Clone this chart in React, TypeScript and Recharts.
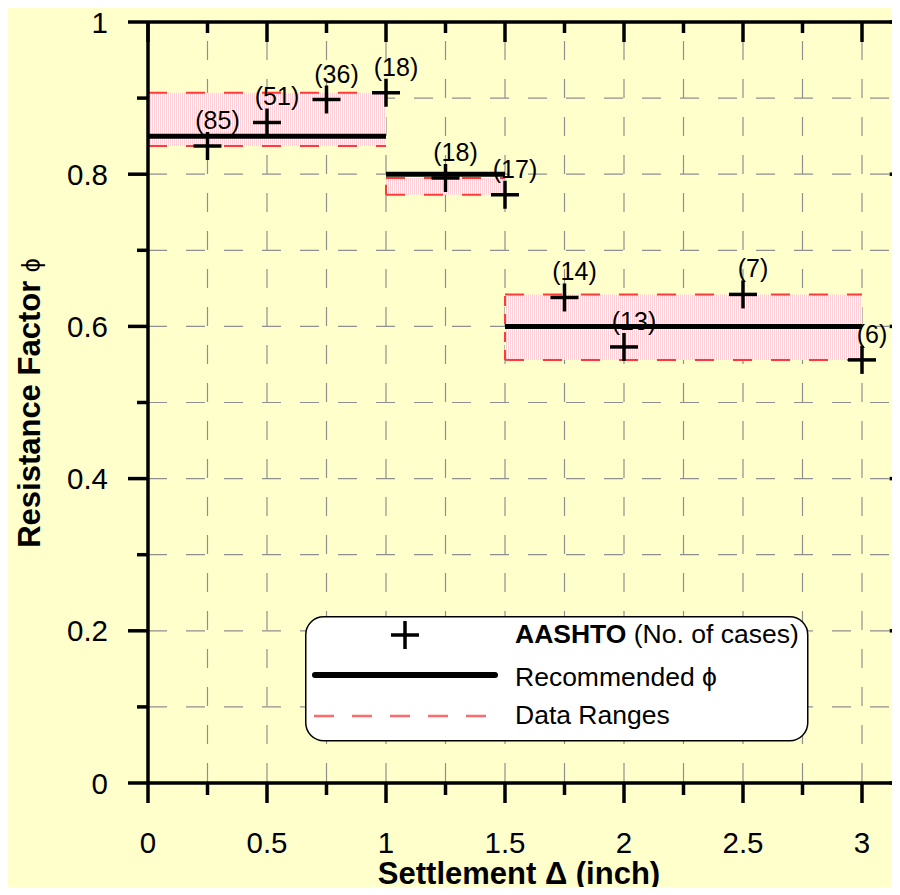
import React from 'react';
import {
  ComposedChart,
  XAxis,
  YAxis,
  CartesianGrid,
  Scatter,
  ReferenceArea,
  ReferenceLine,
  Legend,
} from 'recharts';

// AASHTO cases, settlement (inch) vs resistance factor
const settlement = [0.25, 0.5, 0.75, 1.0, 1.25, 1.5, 1.75, 2.0, 2.5, 3.0];
const phiAashto = [0.837, 0.868, 0.898, 0.907, 0.795, 0.773, 0.638, 0.573, 0.642, 0.556];
const cases = [85, 51, 36, 18, 18, 17, 14, 13, 7, 6];

// recommended phi per settlement band, with the data range of each band
const bandStart = [0, 1, 1.5];
const bandEnd = [1, 1.5, 3];
const recommendedPhi = [0.85, 0.8, 0.6];
const rangeLow = [0.837, 0.773, 0.556];
const rangeHigh = [0.907, 0.795, 0.642];

const xTicks = [0, 0.25, 0.5, 0.75, 1, 1.25, 1.5, 1.75, 2, 2.25, 2.5, 2.75, 3];
const yTicks = [0, 0.1, 0.2, 0.3, 0.4, 0.5, 0.6, 0.7, 0.8, 0.9, 1];
const X_MAX = 3.2;

const aashto = settlement.map((x, i) => ({ x, phi: phiAashto[i], n: cases[i] }));

const FONT = 'Arial, "Liberation Sans", sans-serif';
const AXIS_W = 3.5;
const GRID = '#8f8f8f';

// chart frame
const CHART_W = 930;
const CHART_H = 895;
const MARGIN = { top: 21, right: 19.4, bottom: 0, left: 0 };
const TOP_AXIS_H = 1;
const BOTTOM_AXIS_H = 112;
const LEFT_AXIS_W = 148;
const RIGHT_AXIS_W = 1;
const PLOT_LEFT = MARGIN.left + LEFT_AXIS_W;
const PLOT_TOP = MARGIN.top + TOP_AXIS_H;
const PLOT_W = CHART_W - MARGIN.left - MARGIN.right - LEFT_AXIS_W - RIGHT_AXIS_W;
const PLOT_H = CHART_H - MARGIN.top - MARGIN.bottom - TOP_AXIS_H - BOTTOM_AXIS_H;
const PLOT_RIGHT = PLOT_LEFT + PLOT_W;
const PLOT_BOTTOM = PLOT_TOP + PLOT_H;

// same linear mapping as the x / y axes, for the frame's inward ticks
const frameX = (v: number) => PLOT_LEFT + (v / X_MAX) * PLOT_W;
const frameY = (v: number) => PLOT_BOTTOM - v * PLOT_H;

function isMultiple(v: number, step: number) {
  return Math.abs(v / step - Math.round(v / step)) < 1e-6;
}

function BottomTick({ x, y, payload }: any) {
  const major = isMultiple(payload.value, 0.5);
  return (
    <g>
      <line x1={x} y1={y} x2={x} y2={y + (major ? 20 : 12)} stroke="#000" strokeWidth={AXIS_W} />
      {major && (
        <text x={x} y={y + 70} textAnchor="middle" fontSize={29.5} fontFamily={FONT} fill="#000">
          {payload.value}
        </text>
      )}
    </g>
  );
}

function LeftTick({ x, y, payload }: any) {
  const major = isMultiple(payload.value, 0.2);
  return (
    <g>
      <line x1={x - (major ? 20 : 11)} y1={y} x2={x} y2={y} stroke="#000" strokeWidth={AXIS_W} />
      {major && (
        <text x={x - 40} y={y} dy="0.36em" textAnchor="end" fontSize={29.5} fontFamily={FONT} fill="#000">
          {payload.value}
        </text>
      )}
    </g>
  );
}

function CrossMark({ cx, cy, payload }: any) {
  return (
    <g>
      <line x1={cx - 14} y1={cy} x2={cx + 14} y2={cy} stroke="#000" strokeWidth={3.5} />
      <line x1={cx} y1={cy - 14} x2={cx} y2={cy + 14} stroke="#000" strokeWidth={3.5} />
      <text x={cx + 10} y={cy - 26} dy="0.36em" textAnchor="middle" fontSize={25} fontFamily={FONT} fill="#000">
        ({payload.n})
      </text>
    </g>
  );
}

function LegendBox() {
  return (
    <svg width={506} height={128} style={{ display: 'block', overflow: 'visible' }}>
      <rect x={0.75} y={0.75} width={502} height={124} rx={18} fill="#fff" stroke="#000" strokeWidth={1.5} />
      <line x1={86} y1={19} x2={114} y2={19} stroke="#000" strokeWidth={3.5} />
      <line x1={100} y1={5} x2={100} y2={33} stroke="#000" strokeWidth={3.5} />
      <line x1={10} y1={59} x2={190} y2={59} stroke="#000" strokeWidth={6} strokeLinecap="round" />
      <line x1={9} y1={100} x2={182} y2={100} stroke="#ff6b6b" strokeWidth={2.5} strokeDasharray="20 18" />
      <text x={210} y={27} fontSize={26.5} fontFamily={FONT} fill="#000">
        <tspan fontWeight="bold">AASHTO</tspan> (No. of cases)
      </text>
      <text x={210} y={70} fontSize={26.5} fontFamily={FONT} fill="#000">
        Recommended ϕ
      </text>
      <text x={210} y={108} fontSize={26.5} fontFamily={FONT} fill="#000">
        Data Ranges
      </text>
    </svg>
  );
}

// inward ticks on the top and right edges of the frame, laid over the chart
function FrameTicks() {
  return (
    <svg
      width={900}
      height={895}
      style={{ position: 'absolute', left: 0, top: 0, pointerEvents: 'none' }}
    >
      {xTicks.map((v) => (
        <line
          key={`tt-${v}`}
          x1={frameX(v)}
          y1={PLOT_TOP}
          x2={frameX(v)}
          y2={PLOT_TOP + (isMultiple(v, 0.5) ? 20 : 11)}
          stroke="#000"
          strokeWidth={AXIS_W}
        />
      ))}
      {yTicks.map((v) => (
        <line
          key={`rt-${v}`}
          x1={PLOT_RIGHT - (isMultiple(v, 0.2) ? 20 : 11)}
          y1={frameY(v)}
          x2={PLOT_RIGHT}
          y2={frameY(v)}
          stroke="#000"
          strokeWidth={AXIS_W}
        />
      ))}
    </svg>
  );
}

export default function App() {
  return (
    <div
      style={{
        position: 'relative',
        width: 900,
        height: 895,
        margin: -8,
        overflow: 'hidden',
        background: '#FFFFCC',
        fontFamily: FONT,
      }}
    >
      <ComposedChart width={CHART_W} height={CHART_H} data={aashto} margin={MARGIN}>
        <defs>
          <pattern id="pinkStipple" width={2} height={2} patternUnits="userSpaceOnUse">
            <rect x={0} y={0} width={2} height={2} fill="#ffffff" />
            <rect x={0} y={0} width={1} height={2} fill="#ffcfd8" />
          </pattern>
        </defs>

        {bandStart.map((s, i) => (
          <ReferenceArea
            key={`band-${i}`}
            x1={s}
            x2={bandEnd[i]}
            y1={rangeLow[i]}
            y2={rangeHigh[i]}
            fill="url(#pinkStipple)"
            fillOpacity={1}
            stroke="none"
            ifOverflow="visible"
          />
        ))}

        <CartesianGrid horizontal={false} vertical stroke={GRID} strokeWidth={1.2} strokeDasharray="0 19 19 0" />
        <CartesianGrid horizontal vertical={false} stroke={GRID} strokeWidth={1.2} strokeDasharray="19 19" />

        {bandStart.map((s, i) => (
          <ReferenceLine
            key={`hi-${i}`}
            segment={[{ x: s, y: rangeHigh[i] }, { x: bandEnd[i], y: rangeHigh[i] }]}
            stroke="#ff3a3a"
            strokeWidth={2}
            strokeDasharray="19 19"
            ifOverflow="visible"
          />
        ))}
        {bandStart.map((s, i) => (
          <ReferenceLine
            key={`lo-${i}`}
            segment={[{ x: s, y: rangeLow[i] }, { x: bandEnd[i], y: rangeLow[i] }]}
            stroke="#ff3a3a"
            strokeWidth={2}
            strokeDasharray="19 19"
            ifOverflow="visible"
          />
        ))}
        {bandStart.map((s, i) => (
          <ReferenceLine
            key={`side-${i}`}
            segment={[{ x: s, y: rangeLow[i] }, { x: s, y: rangeHigh[i] }]}
            stroke="#ff3a3a"
            strokeWidth={2}
            strokeDasharray="10 8"
            ifOverflow="visible"
          />
        ))}
        {bandStart.map((s, i) => (
          <ReferenceLine
            key={`rec-${i}`}
            segment={[{ x: s, y: recommendedPhi[i] }, { x: bandEnd[i], y: recommendedPhi[i] }]}
            stroke="#000"
            strokeWidth={5}
            ifOverflow="visible"
          />
        ))}

        <XAxis
          type="number"
          dataKey="x"
          domain={[0, X_MAX]}
          ticks={xTicks}
          height={BOTTOM_AXIS_H}
          stroke="#000"
          strokeWidth={AXIS_W}
          tickLine={false}
          tickSize={0}
          tickMargin={0}
          tick={BottomTick}
          interval={0}
          allowDataOverflow
        />
        <XAxis
          xAxisId="top"
          orientation="top"
          type="number"
          dataKey="x"
          domain={[0, X_MAX]}
          height={TOP_AXIS_H}
          stroke="#000"
          strokeWidth={AXIS_W}
          tickLine={false}
          tick={false}
          allowDataOverflow
        />
        <YAxis
          type="number"
          dataKey="phi"
          domain={[0, 1]}
          ticks={yTicks}
          width={LEFT_AXIS_W}
          stroke="#000"
          strokeWidth={AXIS_W}
          tickLine={false}
          tickSize={0}
          tickMargin={0}
          tick={LeftTick}
          interval={0}
          allowDataOverflow
        />
        <YAxis
          yAxisId="right"
          orientation="right"
          type="number"
          dataKey="phi"
          domain={[0, 1]}
          width={RIGHT_AXIS_W}
          stroke="#000"
          strokeWidth={AXIS_W}
          tickLine={false}
          tick={false}
          allowDataOverflow
        />

        <Scatter name="AASHTO" dataKey="phi" shape={CrossMark} isAnimationActive={false} />

        <Legend
          layout="horizontal"
          verticalAlign="middle"
          align="center"
          content={() => <LegendBox />}
          wrapperStyle={{ left: 305, top: 616, width: 506, height: 128 }}
        />

        <text
          transform="rotate(-90, 29, 403)"
          x={29}
          y={403}
          dy="0.36em"
          textAnchor="middle"
          fontSize={31}
          fontWeight="bold"
          fontFamily={FONT}
          fill="#000"
        >
          Resistance Factor <tspan fontWeight="normal" fontSize={25}>ϕ</tspan>
        </text>
        <text x={519} y={884} textAnchor="middle" fontSize={31} fontWeight="bold" fontFamily={FONT} fill="#000">
          Settlement Δ (inch)
        </text>
      </ComposedChart>

      <FrameTicks />

      <div style={{ position: 'absolute', left: 0, top: 0, width: 900, height: 4, background: '#E4E1B6' }} />
      <div style={{ position: 'absolute', left: 0, top: 0, width: 7, height: 895, background: '#E4E1B6' }} />
      <div style={{ position: 'absolute', left: 136, top: 0, width: 40, height: 3, background: '#000' }} />
    </div>
  );
}
